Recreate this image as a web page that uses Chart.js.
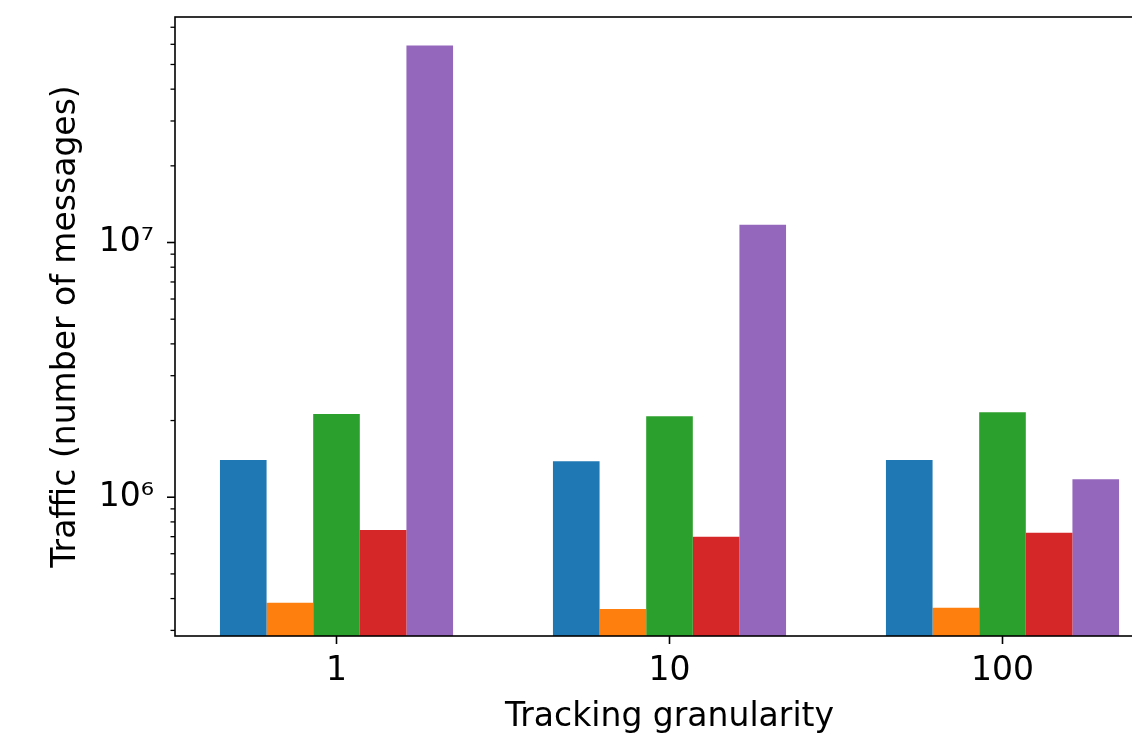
<!DOCTYPE html>
<html>
<head>
<meta charset="utf-8">
<script src="https://cdn.jsdelivr.net/npm/chart.js@4.4.1/dist/chart.umd.min.js"></script>
<style>
  html, body { margin: 0; padding: 0; background: #fff; overflow: hidden; }
  #wrap { position: relative; width: 1170px; height: 737px; }
</style>
</head>
<body>
<div id="wrap"><canvas id="c"></canvas></div>
<script>
// ---- data ----
const categories = ['1', '10', '100'];
const seriesBlue   = [1.40e6, 1.385e6, 1.40e6];
const seriesOrange = [3.855e5, 3.64e5, 3.68e5];
const seriesGreen  = [2.124e6, 2.08e6, 2.158e6];
const seriesRed    = [7.44e5, 7.0e5, 7.26e5];
const seriesPurple = [5.94e7, 1.174e7, 1.177e6];
const yMajorTicks  = [1e6, 1e7];
const yMajorLabels = ['10\u2076', '10\u2077'];
const yMin = 2.852e5;
const yMax = 7.68e7;
const xTitle = 'Tracking granularity';
const yTitle = 'Traffic (number of messages)';

const colors = ['#1f77b4', '#ff7f0e', '#2ca02c', '#d62728', '#9467bd'];
const allSeries = [seriesBlue, seriesOrange, seriesGreen, seriesRed, seriesPurple];

const FONT = 'DejaVu Sans';
const FS = 33;

const datasets = allSeries.map((s, i) => ({
  label: 'S' + (i + 1),
  data: s.map((v, j) => ({ x: j, y: v })),
  backgroundColor: colors[i],
  borderWidth: 0,
  categoryPercentage: 0.7,
  barPercentage: 1.0
}));

const framePlugin = {
  id: 'frame',
  afterDatasetsDraw(chart) {
    const { ctx, chartArea: a } = chart;
    const ys = chart.scales.y;
    ctx.save();
    ctx.strokeStyle = '#000';
    // y ticks (major and minor)
    ys.ticks.forEach(t => {
      const y = ys.getPixelForValue(t.value);
      const lg = Math.log10(t.value);
      const major = Math.abs(lg - Math.round(lg)) < 1e-9;
      ctx.lineWidth = major ? 1.6 : 1.3;
      const len = major ? 8 : 4.5;
      ctx.beginPath();
      ctx.moveTo(a.left - len, y);
      ctx.lineTo(a.left, y);
      ctx.stroke();
    });
    ctx.lineWidth = 1.6;
    ctx.strokeRect(a.left, a.top, a.right - a.left, a.bottom - a.top);
    ctx.restore();
  }
};

new Chart(document.getElementById('c'), {
  type: 'bar',
  data: { datasets },
  plugins: [framePlugin],
  options: {
    responsive: true,
    maintainAspectRatio: false,
    animation: false,
    layout: { padding: { left: 0, top: 17, right: 6, bottom: 0 } },
    plugins: { legend: { display: false }, tooltip: { enabled: false } },
    scales: {
      x: {
        type: 'linear',
        min: -0.485,
        max: 2.485,
        offset: false,
        border: { display: false },
        grid: { display: true, offset: false, drawOnChartArea: false, drawTicks: true, tickLength: 8, tickWidth: 1.6, tickColor: '#000' },
        afterBuildTicks(scale) { scale.ticks = categories.map((c, i) => ({ value: i })); },
        afterFit(scale) { scale.height = 101; scale.paddingLeft = 0; scale.paddingRight = 0; },
        ticks: {
          autoSkip: false,
          maxRotation: 0,
          padding: 8,
          color: '#000',
          font: { family: FONT, size: FS },
          callback: (v) => categories[v] !== undefined ? categories[v] : ''
        },
        title: {
          display: true,
          text: xTitle,
          color: '#000',
          font: { family: FONT, size: FS },
          padding: { top: 0, bottom: 0 }
        }
      },
      y: {
        type: 'logarithmic',
        min: yMin,
        max: yMax,
        border: { display: false },
        grid: { display: true, drawOnChartArea: false, drawTicks: false },
        afterBuildTicks(scale) {
          const t = [];
          for (let e = 5; e <= 7; e++) {
            for (let k = 1; k <= 9; k++) {
              const v = k * Math.pow(10, e);
              if (v >= yMin && v <= yMax) t.push({ value: v });
            }
          }
          scale.ticks = t;
        },
        afterFit(scale) { scale.width = 175; scale.paddingTop = 0; scale.paddingBottom = 0; },
        ticks: {
          autoSkip: false,
          padding: 21,
          color: '#000',
          font: { family: FONT, size: FS },
          callback: (v) => {
            const i = yMajorTicks.findIndex(m => Math.abs(m - v) / m < 1e-6);
            return i >= 0 ? yMajorLabels[i] : '';
          }
        },
        title: {
          display: true,
          text: yTitle,
          color: '#000',
          font: { family: FONT, size: FS },
          padding: { top: 47, bottom: 0 }
        }
      }
    }
  }
});
</script>
</body>
</html>
